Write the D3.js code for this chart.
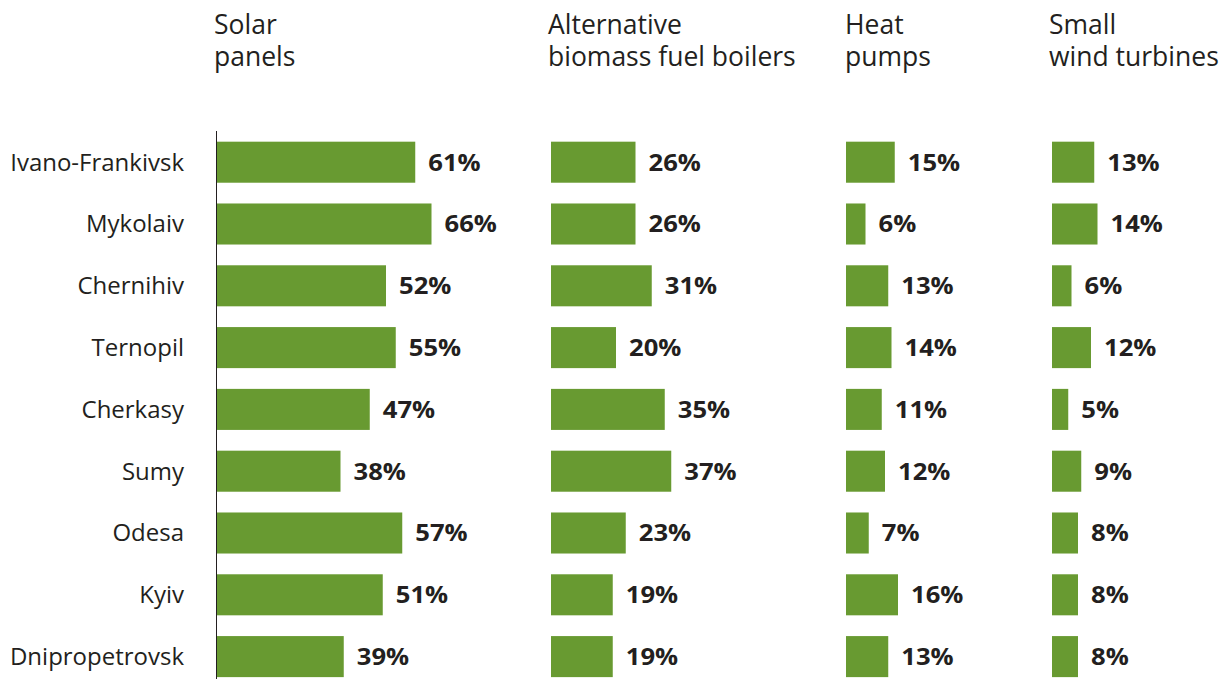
<!DOCTYPE html>
<html>
<head>
<meta charset="utf-8">
<script src="https://cdn.jsdelivr.net/npm/d3@7"></script>
<style>
  html, body { margin: 0; padding: 0; background: #ffffff; }
  svg { display: block; }
  text { font-family: "Open Sans", "Noto Sans", sans-serif; fill: #231f20; }
</style>
</head>
<body>
<svg id="chart" width="1231" height="679"></svg>
<script>
// Regions (rows, top to bottom)
const regions = ["Ivano-Frankivsk", "Mykolaiv", "Chernihiv", "Ternopil", "Cherkasy",
                 "Sumy", "Odesa", "Kyiv", "Dnipropetrovsk"];

// Technology columns: title lines
const titles = [
  ["Solar", "panels"],
  ["Alternative", "biomass fuel boilers"],
  ["Heat", "pumps"],
  ["Small", "wind turbines"]
];

// Share of respondents (%) per technology, in region order
const solarPanels    = [61, 66, 52, 55, 47, 38, 57, 51, 39];
const biomassBoilers = [26, 26, 31, 20, 35, 37, 23, 19, 19];
const heatPumps      = [15, 6, 13, 14, 11, 12, 7, 16, 13];
const windTurbines   = [13, 14, 6, 12, 5, 9, 8, 8, 8];

const seriesList = [solarPanels, biomassBoilers, heatPumps, windTurbines];

// Left edge of each column and horizontal nudge of its title
const columnX = [217, 551, 846, 1052];
const titleDx = [-3, -3, -1, -3];

const svg = d3.select("#chart");

const y = d3.scaleBand()
  .domain(regions)
  .range([131.3, 687.5])
  .paddingInner(0.336)
  .paddingOuter(0.168);

// One shared value scale for every column (percent -> px)
const x = d3.scaleLinear().domain([0, 100]).range([0, 325]);

// Region labels
svg.append("g")
  .selectAll("text")
  .data(regions)
  .join("text")
  .attr("transform", d => `translate(184,${y(d) + y.bandwidth() / 2}) scale(1.03,1)`)
  .attr("dy", "0.36em")
  .attr("text-anchor", "end")
  .style("font-size", "23.3px")
  .text(d => d);

// Vertical baseline of the first column
svg.append("line")
  .attr("x1", 216.5).attr("x2", 216.5)
  .attr("y1", 131).attr("y2", 679)
  .attr("stroke", "#231f20")
  .attr("stroke-width", 1);

seriesList.forEach((values, i) => {
  const g = svg.append("g").attr("transform", `translate(${columnX[i]},0)`);

  // Column title, one text per line
  g.selectAll("text.title")
    .data(titles[i])
    .join("text")
    .attr("class", "title")
    .attr("x", titleDx[i])
    .attr("y", (d, k) => 34 + k * 32)
    .style("font-size", "26.5px")
    .text(d => d);

  const rows = values.map((v, r) => ({ region: regions[r], value: v }));

  g.selectAll("rect")
    .data(rows)
    .join("rect")
    .attr("x", 0)
    .attr("y", d => y(d.region))
    .attr("width", d => x(d.value))
    .attr("height", y.bandwidth())
    .attr("fill", "#689a31");

  g.selectAll("text.value")
    .data(rows)
    .join("text")
    .attr("class", "value")
    .attr("transform", d => `translate(${x(d.value) + 13},${y(d.region) + y.bandwidth() / 2}) scale(1.1,1)`)
    .attr("dy", "0.36em")
    .style("font-size", "23.3px")
    .style("font-weight", "700")
    .text(d => d.value + "%");
});
</script>
</body>
</html>
